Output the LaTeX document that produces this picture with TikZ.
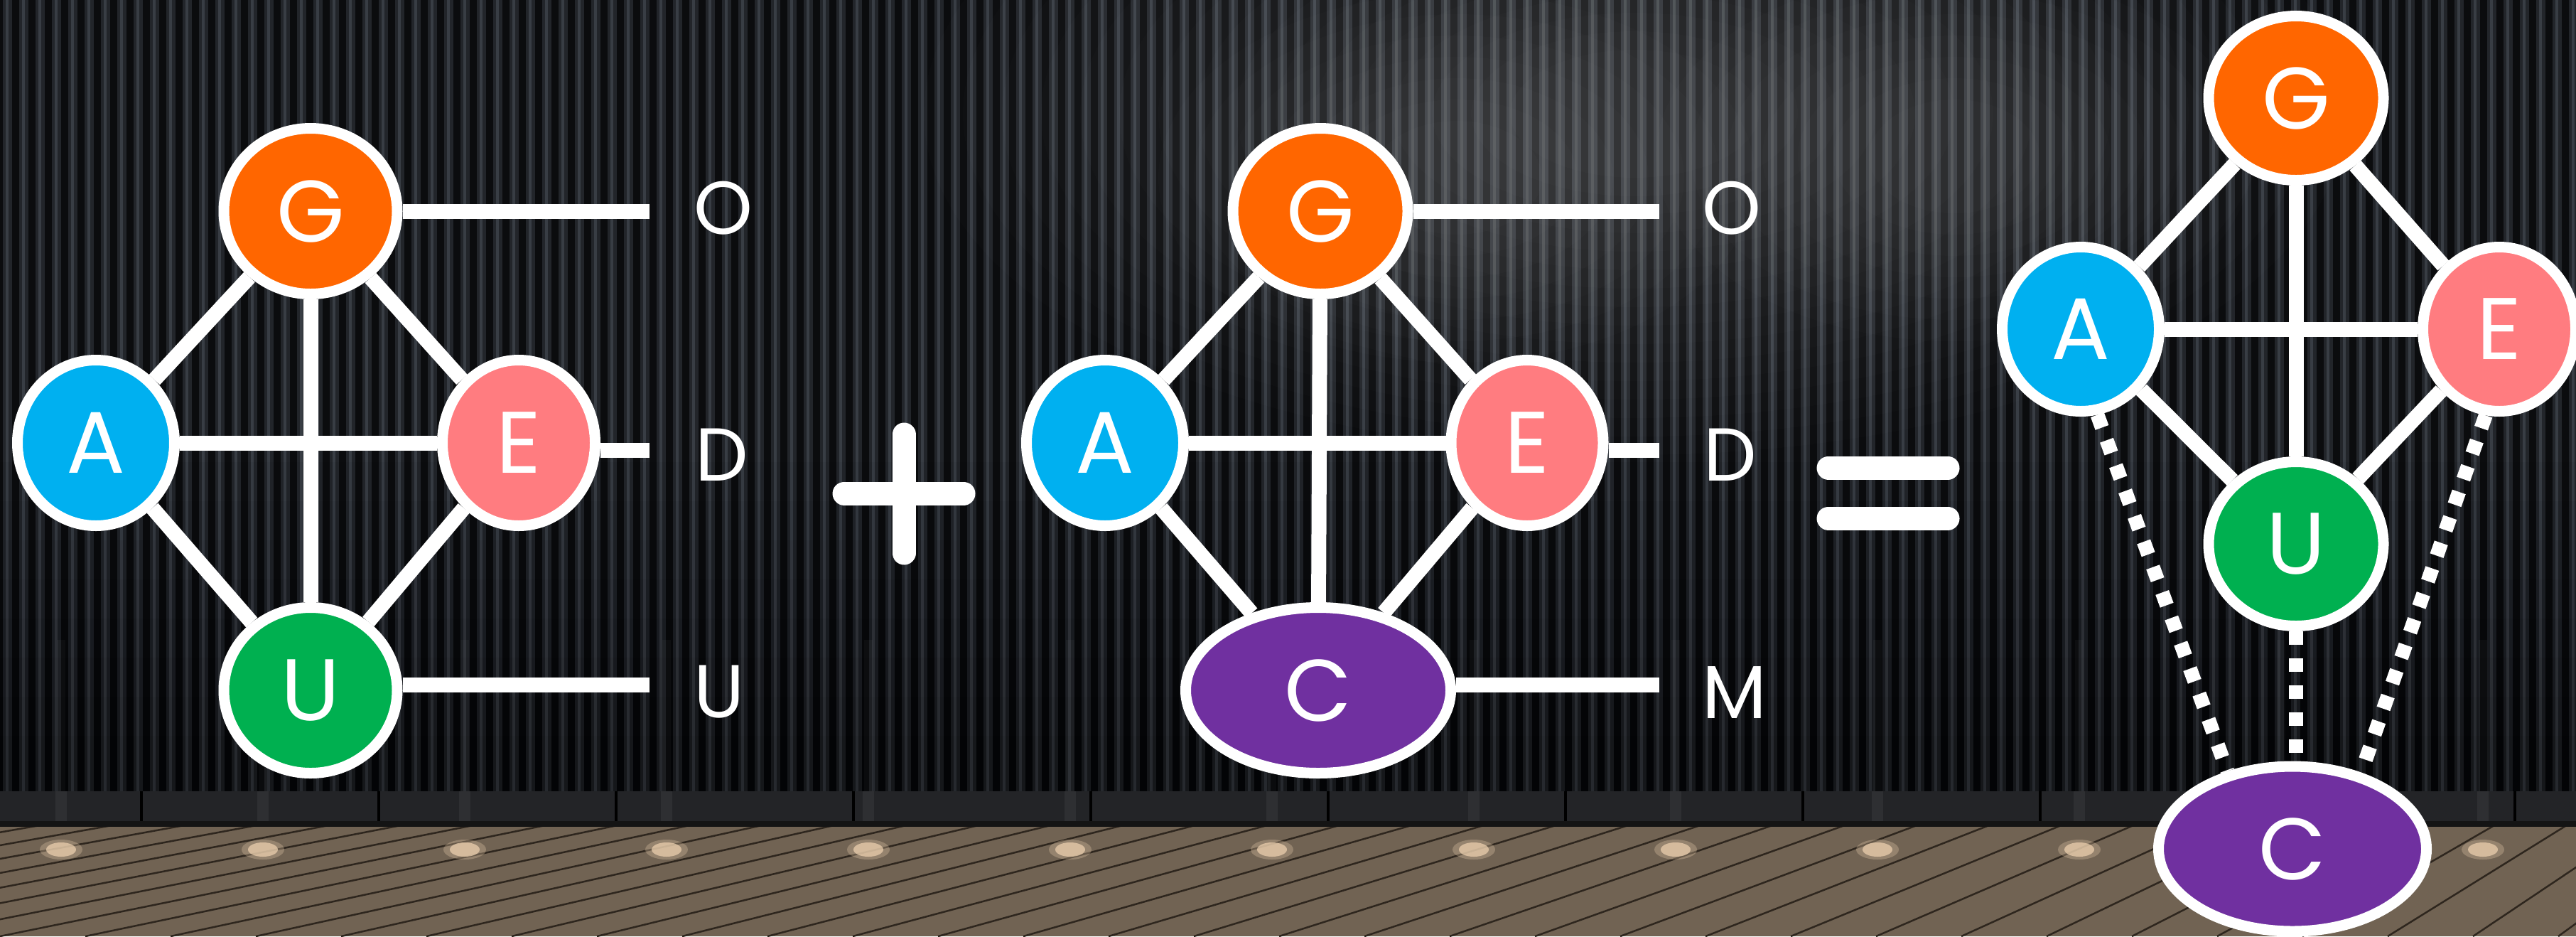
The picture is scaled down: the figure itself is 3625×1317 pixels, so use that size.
\documentclass[tikz,border=0pt]{standalone}
\usepackage{fontspec}
\setmainfont{Poppins}
\usetikzlibrary{shapes.geometric}
\pgfdeclarelayer{background}
\pgfdeclarelayer{edges}
\pgfsetlayers{background,edges,main}
\definecolor{gOrange}{HTML}{FF6600}
\definecolor{aBlue}{HTML}{00B0F0}
\definecolor{ePink}{HTML}{FF7C80}
\definecolor{uGreen}{HTML}{00B050}
\definecolor{cPurple}{HTML}{7030A0}
\definecolor{wallDark}{HTML}{0B0C0E}
\definecolor{stripeMid}{HTML}{22252A}
\definecolor{stripeHi}{HTML}{383D44}
\definecolor{bandCol}{HTML}{232427}
\definecolor{floorCol}{HTML}{716353}
\definecolor{plankLine}{HTML}{2E261E}
\definecolor{spotCol}{HTML}{EBCFAE}
\begin{document}
\begin{tikzpicture}[x=0.1mm,y=-0.1mm,
  vtx/.style={ellipse, draw=white, line width=1.5mm, inner sep=0pt, text=white,
    font=\fontsize{35}{35}\selectfont, minimum height=23.3mm},
  edge/.style={white, line width=2.1mm},
  dotedge/.style={white, line width=2.0mm, dash pattern=on 1.9mm off 1.9mm},
  lbl/.style={text=white, font=\fontsize{30}{30}\selectfont, anchor=base west, inner sep=0pt},
  sym/.style={white, line width=3.3mm, line cap=round}]
\useasboundingbox (0,0) rectangle (3625,1317);

% ---------------- background ----------------
\begin{pgfonlayer}{background}
\fill[wallDark] (0,0) rectangle (3625,1113);
\foreach \i in {0,...,157}{
  \fill[stripeMid] ({\i*23+4},0) rectangle ({\i*23+17},1113);
  \fill[stripeHi] ({\i*23+8},0) rectangle ({\i*23+12},1113);
}
% soft smoky glow at top centre
\foreach \k in {0,...,15}{
  \fill[white, opacity=0.012] (2300,160) ellipse ({1000-\k*55} and {480-\k*26});
}
\foreach \k in {0,...,6}{
  \fill[white, opacity=0.012] (2050,250) ellipse ({420-\k*50} and {260-\k*30});
  \fill[white, opacity=0.012] (2750,220) ellipse ({420-\k*50} and {260-\k*30});
}
% darker lower wall
\foreach \k in {0,...,7}{
  \fill[black, opacity=0.04] (0,{650+\k*55}) rectangle (3625,1113);
}
% faint light streaks
\foreach \k in {0,...,12}{
  \fill[white, opacity=0.03] ({86+284*\k-6},900) rectangle ({86+284*\k+6},1157);
}
% skirting band
\fill[bandCol] (0,1113) rectangle (3625,1157);
\foreach \k in {0,...,10}{
  \draw[black, line width=0.35mm] ({199+334*\k},1113) -- ({199+334*\k},1157);
}
\foreach \k in {0,...,12}{
  \fill[white, opacity=0.05] ({86+284*\k-8},1113) rectangle ({86+284*\k+8},1157);
}
\fill[black!92] (0,1155) rectangle (3625,1163);
% floor
\fill[floorCol] (0,1163) rectangle (3625,1317);
\begin{scope}
  \clip (0,1163) rectangle (3625,1317);
  \foreach \b in {-3000,-2880,...,4000}{
    \draw[plankLine, line width=0.25mm] (\b,1317) -- ({\b+0.35*(5000-\b)},{1317-0.35*(1017)});
  }
  \foreach \k in {0,...,12}{
    \fill[spotCol, opacity=0.3] ({86+284*\k},1195) ellipse (30 and 14);
    \fill[spotCol, opacity=0.75] ({86+284*\k},1195) ellipse (21 and 10);
  }
\end{scope}
\end{pgfonlayer}

% ---------------- left graph ----------------
\node[vtx, fill=gOrange, minimum width=24.4mm] (GL) at (437,297) {G};
\node[vtx, fill=aBlue, minimum width=22.1mm] (AL) at (135,623) {A};
\node[vtx, fill=ePink, minimum width=21.5mm] (EL) at (730,623) {E};
\node[vtx, fill=uGreen, minimum width=24.4mm] (UL) at (437,971) {U};
\coordinate (cO1) at (914,297);
\coordinate (cD1) at (914,633);
\coordinate (cU1) at (914,963);
\node[lbl] (lO1) at (976,329) {O};
\node[lbl] (lD1) at (978,676) {D};
\node[lbl] (lU1) at (976,1009) {U};

% ---------------- middle graph ----------------
\node[vtx, fill=gOrange, minimum width=24.6mm] (GM) at (1858,297) {G};
\node[vtx, fill=aBlue, minimum width=22.1mm] (AM) at (1555,623) {A};
\node[vtx, fill=ePink, minimum width=21.4mm] (EM) at (2149,623) {E};
\node[vtx, fill=cPurple, minimum width=37.3mm] (CM) at (1855,971) {C};
\coordinate (cO2) at (2335,297);
\coordinate (cD2) at (2335,633);
\coordinate (cM2) at (2335,963);
\node[lbl] (lO2) at (2395,329) {O};
\node[lbl] (lD2) at (2397,676) {D};
\node[lbl] (lM2) at (2395,1010) {M};

% ---------------- right graph ----------------
\node[vtx, fill=gOrange, minimum width=24.6mm, minimum height=23.1mm] (GR) at (3231,138) {G};
\node[vtx, fill=aBlue, minimum width=22.1mm, minimum height=23.1mm] (AR) at (2928,463) {A};
\node[vtx, fill=ePink, minimum width=21.5mm, minimum height=23.1mm] (ER) at (3517,463) {E};
\node[vtx, fill=uGreen, minimum width=24.6mm, minimum height=23.1mm] (UR) at (3231,765) {U};
\node[vtx, fill=cPurple, minimum width=37.7mm, minimum height=23.2mm] (CR) at (3226,1194) {C};

% ---------------- plus and equals ----------------
\draw[sym] (1188,694) -- (1356,694);
\draw[sym] (1272,611) -- (1272,778);
\draw[sym] (2573,658) -- (2741,658);
\draw[sym] (2573,729) -- (2741,729);

% ---------------- edges ----------------
\begin{pgfonlayer}{edges}
\draw[edge] (GL) -- (AL);
\draw[edge] (GL) -- (EL);
\draw[edge] (GL) -- (UL);
\draw[edge] (AL) -- (EL);
\draw[edge] (AL) -- (UL);
\draw[edge] (EL) -- (UL);
\draw[edge] (GL.east) -- (cO1);
\draw[edge] (EL.east |- cD1) -- (cD1);
\draw[edge] (UL.east |- cU1) -- (cU1);

\draw[edge] (GM) -- (AM);
\draw[edge] (GM) -- (EM);
\draw[edge] (GM) -- (CM);
\draw[edge] (AM) -- (EM);
\draw[edge] (AM) -- (CM);
\draw[edge] (EM) -- (CM);
\draw[edge] (GM.east) -- (cO2);
\draw[edge] (EM.east |- cD2) -- (cD2);
\draw[edge] (CM.east |- cM2) -- (cM2);

\draw[edge] (GR) -- (AR);
\draw[edge] (GR) -- (ER);
\draw[edge] (GR) -- (UR);
\draw[edge] (AR) -- (ER);
\draw[edge] (AR) -- (UR);
\draw[edge] (ER) -- (UR);
\draw[dotedge] (AR.-79) -- (CR.130);
\draw[dotedge] (ER.-99) -- (CR.48);
\draw[dotedge] (UR.south) -- (UR.south |- CR.north);
\end{pgfonlayer}
\end{tikzpicture}
\end{document}
